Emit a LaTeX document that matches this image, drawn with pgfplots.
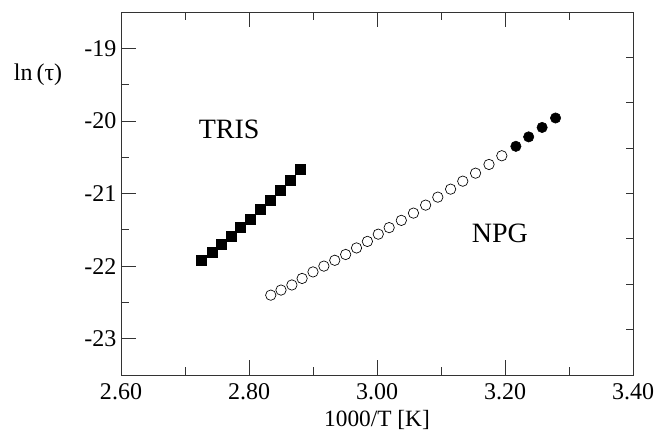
\documentclass[border=0pt]{standalone}
\usepackage{fontspec}
\setmainfont{Liberation Serif}
\usepackage{pgfplots}
\pgfplotsset{compat=1.18}

% TRIS (filled squares)
\pgfplotstableread{
x y
2.726 -21.92
2.742 -21.81
2.757 -21.70
2.772 -21.59
2.787 -21.47
2.802 -21.35
2.818 -21.22
2.833 -21.09
2.849 -20.96
2.865 -20.82
2.880 -20.67
}\tris

% NPG, open circles
\pgfplotstableread{
x y
2.834 -22.40
2.850 -22.33
2.867 -22.26
2.883 -22.17
2.900 -22.08
2.917 -22.00
2.934 -21.92
2.951 -21.84
2.968 -21.75
2.985 -21.66
3.002 -21.56
3.019 -21.47
3.038 -21.37
3.057 -21.27
3.076 -21.16
3.095 -21.05
3.115 -20.94
3.134 -20.83
3.154 -20.72
3.175 -20.60
3.195 -20.48
}\npgopen

% NPG, filled circles
\pgfplotstableread{
x y
3.217 -20.35
3.237 -20.22
3.258 -20.09
3.279 -19.96
}\npgfull

\begin{document}
\begin{tikzpicture}
\begin{axis}[
  name=main,
  scale only axis,
  width=384pt, height=272.25pt,
  xmin=2.6, xmax=3.4, ymin=-23.5, ymax=-18.5,
  xtick={2.6,2.8,3.0,3.2,3.4},
  ytick={-23,-22,-21,-20,-19},
  minor x tick num=1, minor y tick num=1,
  tick align=inside,
  xtick pos=both, ytick pos=left,
  major tick length=11.25pt, minor tick length=6pt,
  axis line style={black!80, line width=0.6pt},
  tick style={black!80, line width=0.6pt},
  /pgf/number format/assume math mode=true,
  xticklabel style={font=\fontsize{18}{21}\selectfont, yshift=-5.5pt, inner sep=1pt,
    /pgf/number format/.cd, fixed, fixed zerofill, precision=2},
  yticklabel style={font=\fontsize{18}{21}\selectfont},
  xlabel={1000/T [K]},
  xlabel style={font=\fontsize{17.5}{20}\selectfont, inner sep=1pt,
    at={(axis description cs:0.5,-0.124)}, anchor=center},
  clip=false,
]
\addplot[only marks, mark=square*, mark size=3.75pt, mark options={fill=black, draw=black}] table {\tris};
\addplot[only marks, mark=o, mark size=3.9pt, mark options={draw=black, line width=0.5pt}] table {\npgopen};
\addplot[only marks, mark=*, mark size=3.9pt, mark options={fill=black, draw=black}] table {\npgfull};
\node[font=\fontsize{21}{24}\selectfont] at (axis cs:2.769,-20.11) {TRIS};
\node[font=\fontsize{21}{24}\selectfont] at (axis cs:3.192,-21.55) {NPG};
\node[font=\fontsize{18}{22}\selectfont] at (axis description cs:-0.162,0.826) {ln\,(τ)};
\end{axis}
% unlabelled ticks of the right-hand frame
\begin{axis}[
  scale only axis,
  width=384pt, height=272.25pt,
  at={(main.south west)}, anchor=south west,
  xmin=0, xmax=1, ymin=0, ymax=8,
  hide x axis,
  axis y line*=right,
  ytick={1,...,7}, yticklabels={},
  tick align=inside,
  major tick length=5.25pt,
  axis line style={black!80, line width=0.6pt},
  tick style={black!80, line width=0.6pt},
]
\end{axis}
\pgfresetboundingbox
\path[use as bounding box] ([shift={(-90.75pt,-45.75pt)}]main.south west) rectangle ([shift={(400.5pt,281.25pt)}]main.south west);
\end{tikzpicture}
\end{document}
